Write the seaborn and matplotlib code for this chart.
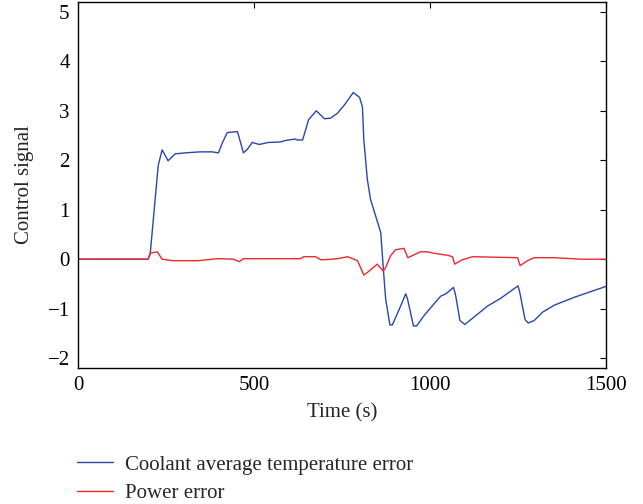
import matplotlib
matplotlib.use("Agg")
import matplotlib.pyplot as plt
import seaborn as sns
import pandas as pd

# Data
blue_t = [0, 199, 205, 219, 228, 239, 256, 276, 305, 347, 381, 399, 410, 424, 453, 470, 481, 495,
          515, 541, 575, 589, 618, 623, 638, 646, 655, 677, 700, 717, 737, 757, 782, 800, 808, 812,
          822, 831, 860, 869, 874, 886, 893, 917, 931, 936, 953, 962, 983, 1007, 1030, 1045, 1067,
          1073, 1085, 1099, 1125, 1163, 1201, 1250, 1255, 1270, 1279, 1296, 1320, 1353, 1410, 1500]
blue_v = [0, 0, 0.1, 1.2, 1.9, 2.21, 1.99, 2.13, 2.15, 2.17, 2.17, 2.15, 2.35, 2.56, 2.58, 2.15, 2.22, 2.36,
          2.32, 2.36, 2.37, 2.40, 2.43, 2.41, 2.41, 2.6, 2.82, 3.0, 2.84, 2.85, 2.95, 3.12, 3.37, 3.27, 3.08, 2.41,
          1.61, 1.21, 0.54, -0.34, -0.80, -1.33, -1.33, -0.94, -0.70, -0.80, -1.35, -1.35, -1.14, -0.94, -0.75, -0.70, -0.57,
          -0.74, -1.24, -1.32, -1.17, -0.95, -0.79, -0.54, -0.67, -1.22, -1.29, -1.24, -1.07, -0.93, -0.77, -0.55]

red_t = [0, 199, 205, 225, 239, 270, 342, 396, 441, 458, 470, 632, 641, 675, 689, 703, 737, 766, 794,
         812, 822, 850, 867, 874, 888, 902, 926, 937, 973, 992, 1011, 1049, 1064, 1070, 1092, 1121,
         1249, 1256, 1277, 1296, 1353, 1429, 1500]
red_v = [0, 0, 0.12, 0.15, 0, -0.03, -0.03, 0.01, 0.0, -0.05, 0.01, 0.01, 0.05, 0.05, -0.01, -0.01, 0.01, 0.05, -0.03,
         -0.32, -0.27, -0.10, -0.24, -0.17, 0.07, 0.19, 0.22, 0.03, 0.15, 0.15, 0.12, 0.08, 0.05, -0.10, -0.01, 0.05,
         0.03, -0.13, -0.03, 0.03, 0.03, 0, 0]

labels = ["Coolant average temperature error", "Power error"]
colors = ["#2747ad", "#f02828"]
x_ticks = [0, 500, 1000, 1500]
y_ticks = [-2, -1, 0, 1, 2, 3, 4, 5]

sns.set_style("white")
plt.rcParams['font.family'] = ['Liberation Serif', 'DejaVu Serif']

FS = 15
fig = plt.figure(figsize=(6.43, 5.04), dpi=100)
ax = fig.add_axes([78/643, 1-368/504, (606-78)/643, (368-2)/504])

df_b = pd.DataFrame({"t": blue_t, "v": blue_v})
df_r = pd.DataFrame({"t": red_t, "v": red_v})
sns.lineplot(data=df_b, x="t", y="v", ax=ax, color=colors[0], lw=1.0, label=labels[0], estimator=None)
sns.lineplot(data=df_r, x="t", y="v", ax=ax, color=colors[1], lw=1.0, label=labels[1], estimator=None)

ax.set_xlim(0, 1500)
ax.set_ylim(-2.2, 5.2)
ax.set_xticks(x_ticks)
ax.set_yticks(y_ticks)
ax.set_yticklabels([str(v).replace('-', '\u2212') for v in y_ticks])
ax.set_xlabel("Time (s)", fontsize=FS, labelpad=6)
ax.set_ylabel("Control signal", fontsize=FS, labelpad=10)
ax.tick_params(direction='in', length=4, width=0.8, top=True, right=True, labelsize=FS,
               labeltop=False, labelright=False, colors='black')
ax.tick_params(axis='x', pad=6)
ax.tick_params(axis='y', pad=6)
for s in ax.spines.values():
    s.set_visible(True)
    s.set_color('black')
    s.set_linewidth(1.0)

handles, labs = ax.get_legend_handles_labels()
ax.get_legend().remove()
fig.legend(handles, labs, loc='upper left', bbox_to_anchor=(77/643, 1-455/504), frameon=False,
           fontsize=FS, handlelength=1.75, handletextpad=0.55, labelspacing=0.42, borderaxespad=0,
           borderpad=0)

fig.savefig("out.png", dpi=100)
